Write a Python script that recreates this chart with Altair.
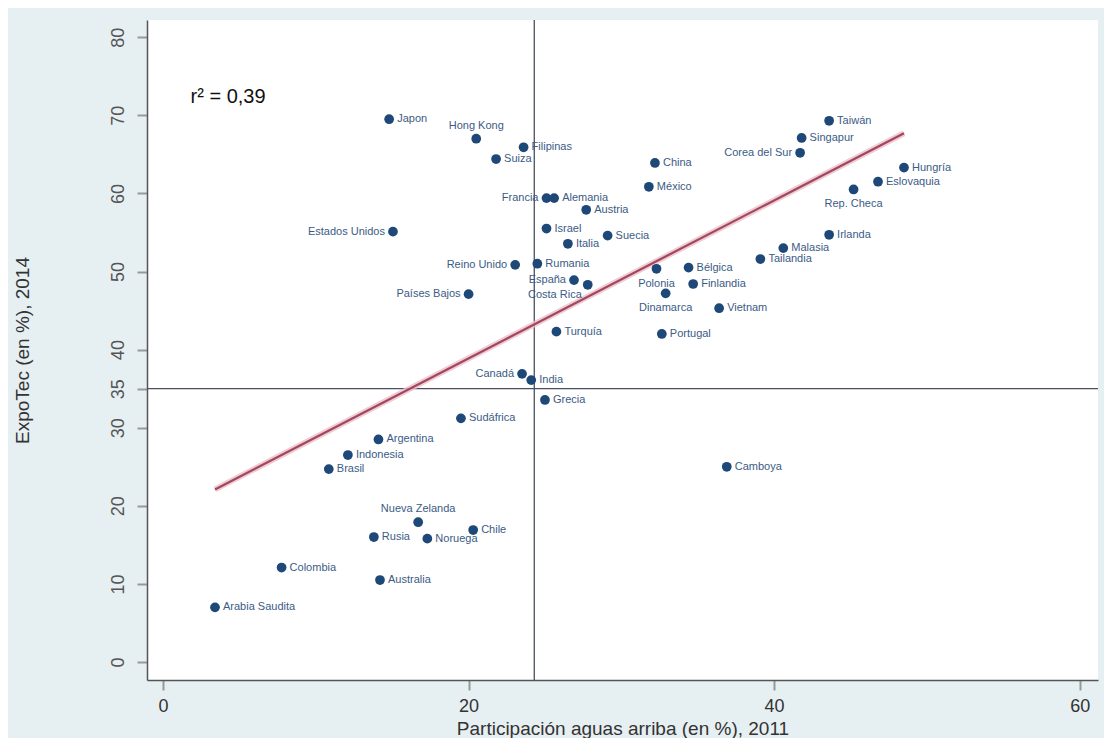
import altair as alt
import pandas as pd

# ---- data ----
countries = ["Japon", "Hong Kong", "Filipinas", "Suiza", "Francia", "Alemania", "Austria",
             "Israel", "Italia", "Suecia", "Reino Unido", "Rumania", "España", "Costa Rica",
             "Países Bajos", "Turquía", "China", "México", "Polonia", "Dinamarca", "Portugal",
             "Bélgica", "Finlandia", "Vietnam", "Tailandia", "Malasia", "Irlanda", "Rep. Checa",
             "Eslovaquia", "Hungría", "Corea del Sur", "Singapur", "Taiwán", "Estados Unidos",
             "Canadá", "India", "Grecia", "Sudáfrica", "Argentina", "Indonesia", "Brasil",
             "Nueva Zelanda", "Chile", "Rusia", "Noruega", "Colombia", "Australia",
             "Arabia Saudita", "Camboya"]
upstream_2011 = [14.8, 20.5, 23.6, 21.8, 25.1, 25.6, 27.7,
                 25.1, 26.5, 29.1, 23.05, 24.5, 26.9, 27.8,
                 20.0, 25.75, 32.2, 31.8, 32.3, 32.9, 32.65,
                 34.4, 34.7, 36.4, 39.1, 40.6, 43.6, 45.2,
                 46.8, 48.5, 41.7, 41.8, 43.6, 15.05,
                 23.5, 24.1, 25.0, 19.5, 14.1, 12.1, 10.85,
                 16.7, 20.3, 13.8, 17.3, 7.76, 14.2,
                 3.4, 36.9]
expotec_2014 = [69.5, 67.0, 65.9, 64.4, 59.4, 59.4, 57.9,
                55.5, 53.55, 54.6, 50.85, 51.0, 48.9, 48.3,
                47.1, 42.3, 63.9, 60.85, 50.35, 47.2, 42.0,
                50.5, 48.4, 45.3, 51.6, 53.0, 54.7, 60.5,
                61.5, 63.3, 65.2, 67.1, 69.3, 55.1,
                36.9, 36.1, 33.55, 31.2, 28.5, 26.5, 24.7,
                17.9, 16.9, 16.0, 15.8, 12.1, 10.5,
                7.0, 25.0]

left_labels = ["Francia", "Reino Unido", "España", "Países Bajos", "Corea del Sur",
               "Estados Unidos", "Canadá"]
above_labels = ["Hong Kong", "Nueva Zelanda"]
below_labels = ["Polonia", "Dinamarca", "Rep. Checa"]
below_left_labels = ["Costa Rica"]

fit_x = [3.4, 48.5]
fit_y = [22.1, 67.7]

mean_x = [24.3]
mean_y = [35.0]

r2_text = ["r² = 0,39"]
r2_x = [1.8]
r2_y = [72.4]

x_ticks = [0, 20, 40, 60]
y_ticks = [0, 10, 20, 30, 35, 40, 50, 60, 70, 80]
x_domain = [-1.05, 61.2]
y_domain = [-2.3, 82.2]

# ---- build tables ----
df = pd.DataFrame({"pais": countries, "x": upstream_2011, "y": expotec_2014})


def place(name):
    if name in left_labels:
        return "left"
    if name in above_labels:
        return "above"
    if name in below_labels:
        return "below"
    if name in below_left_labels:
        return "belowleft"
    return "right"


df["pos"] = df["pais"].map(place)
fit_df = pd.DataFrame({"x": fit_x, "y": fit_y})
vx_df = pd.DataFrame({"x": mean_x})
hy_df = pd.DataFrame({"y": mean_y})
r2_df = pd.DataFrame({"t": r2_text, "x": r2_x, "y": r2_y})

FONT = "Liberation Sans"
LABEL_COLOR = "#3b5b85"
POINT_COLOR = "#1d4877"

xscale = alt.Scale(domain=x_domain, nice=False, zero=False)
yscale = alt.Scale(domain=y_domain, nice=False, zero=False)

xenc = alt.X("x:Q", scale=xscale,
             axis=alt.Axis(values=x_ticks, title="Participación aguas arriba (en %), 2011",
                           grid=False, labelFontSize=18, titleFontSize=19, labelFont=FONT,
                           titleFont=FONT, titleFontWeight="normal", labelColor="#333333",
                           titleColor="#333333", domainColor="#555555", tickColor="#999999",
                           tickSize=10, tickWidth=2, labelPadding=7, titleY=54,
                           titleBaseline="alphabetic", domainWidth=1.5))
yenc = alt.Y("y:Q", scale=yscale,
             axis=alt.Axis(values=y_ticks, title="ExpoTec (en %), 2014", grid=False,
                           labelFontSize=18, titleFontSize=19, labelFont=FONT, titleFont=FONT,
                           titleFontWeight="normal", labelColor="#555555",
                           titleColor="#333333", domainColor="#555555", tickColor="#999999",
                           tickSize=10, tickWidth=2, labelAngle=270, labelAlign="center",
                           labelBaseline="bottom", labelPadding=10, titleX=-115,
                           domainWidth=1.5))

base = alt.Chart(df)

points = base.mark_circle(size=95, opacity=1, color=POINT_COLOR).encode(x=xenc, y=yenc)

text_common = dict(font=FONT, fontSize=11, color=LABEL_COLOR)

t_right = base.transform_filter(alt.datum.pos == "right").mark_text(
    align="left", baseline="middle", dx=8, **text_common
).encode(x="x:Q", y="y:Q", text="pais:N")
t_left = base.transform_filter(alt.datum.pos == "left").mark_text(
    align="right", baseline="middle", dx=-8, **text_common
).encode(x="x:Q", y="y:Q", text="pais:N")
t_above = base.transform_filter(alt.datum.pos == "above").mark_text(
    align="center", baseline="bottom", dy=-8, **text_common
).encode(x="x:Q", y="y:Q", text="pais:N")
t_below = base.transform_filter(alt.datum.pos == "below").mark_text(
    align="center", baseline="top", dy=9, **text_common
).encode(x="x:Q", y="y:Q", text="pais:N")
t_belowleft = base.transform_filter(alt.datum.pos == "belowleft").mark_text(
    align="right", baseline="top", dx=-6, dy=4, **text_common
).encode(x="x:Q", y="y:Q", text="pais:N")

vline = alt.Chart(vx_df).mark_rule(color="#4a5060", strokeWidth=1.3).encode(x="x:Q")
hline = alt.Chart(hy_df).mark_rule(color="#4a5060", strokeWidth=1.3).encode(y="y:Q")

fit_halo = alt.Chart(fit_df).mark_line(color="#eac0cb", strokeWidth=6, opacity=0.8).encode(
    x="x:Q", y="y:Q")
fit = alt.Chart(fit_df).mark_line(color="#a3465e", strokeWidth=2.2).encode(x="x:Q", y="y:Q")

r2 = alt.Chart(r2_df).mark_text(align="left", baseline="middle", font=FONT, fontSize=20,
                                color="#111111").encode(x="x:Q", y="y:Q", text="t:N")

chart = alt.layer(
    vline, hline, fit_halo, fit, points, t_right, t_left, t_above, t_below, t_belowleft, r2
).properties(
    width=951, height=660,
    autosize=alt.AutoSizeParams(type="none"),
    padding={"left": 139, "top": 12, "right": 6, "bottom": 58},
    background="#e6eff2",
).configure_view(fill="white", stroke=None)

chart.save("out.html", embed_options={"renderer": "svg", "actions": False})
